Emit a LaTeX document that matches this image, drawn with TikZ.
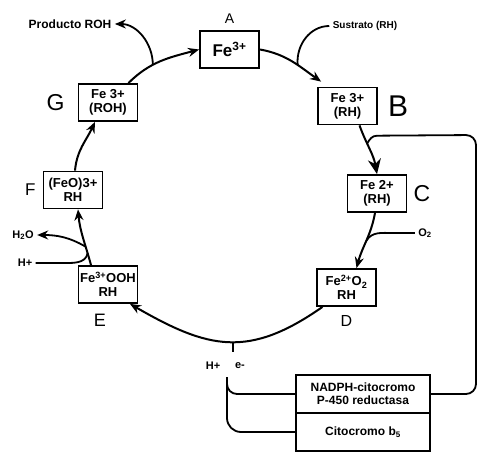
\documentclass[tikz,border=0pt]{standalone}
\usepackage{fontspec}
\setmainfont{Liberation Sans}
\usetikzlibrary{arrows.meta,positioning,calc}

\begin{document}
\begin{tikzpicture}[
        x=1pt, y=1pt,
        every node/.style={font=\bfseries\fontsize{11}{12}\selectfont},
        state/.style={
            draw,
            line width=1.8pt,
            align=center,
            minimum width=59pt,
            minimum height=37pt,
            inner sep=1pt,
            font=\bfseries\fontsize{13}{14}\selectfont
        },
        enzyme/.style={
            draw,
            line width=1.8pt,
            align=center,
            minimum width=134pt,
            minimum height=38pt,
            inner sep=1pt,
            outer sep=0pt,
            font=\bfseries\fontsize{12}{13}\selectfont
        },
        tag/.style={inner sep=0pt, font=\fontsize{23}{23}\selectfont},
        cyc/.style={-{Stealth[length=11pt,width=9pt]}, line width=2pt},
        side/.style={line width=1.8pt}
    ]
    \useasboundingbox (0,0) rectangle (479,-454);

    % estados del ciclo
    \node[state, font=\bfseries\fontsize{17}{18}\selectfont] (A) at (229.5,-49.5) {Fe\textsuperscript{3+}};
    \node[state] (B) at (347.5,-106) {Fe 3+\\(RH)};
    \node[state] (C) at (377,-193.5) {Fe 2+\\(RH)};
    \node[state] (D) at (346.5,-287.5) {Fe\textsuperscript{2+}O\textsubscript{2}\\RH};
    \node[state] (E) at (108,-284.5) {Fe\textsuperscript{3+}OOH\\RH};
    \node[state] (F) at (73,-190) {(FeO)3+\\RH};
    \node[state] (G) at (108,-102.5) {Fe 3+\\(ROH)};

    \node[tag, font=\fontsize{14}{14}\selectfont, above=6pt of A] (labA) {A};
    \node[tag, font=\fontsize{30}{30}\selectfont, right=10pt of B] (labB) {B};
    \node[tag, right=6pt of C] (labC) {C};
    \node[tag, font=\fontsize{16}{16}\selectfont, below=8pt of D] (labD) {D};
    \node[tag, font=\fontsize{18}{18}\selectfont, below=10pt of E, xshift=-8pt] (labE) {E};
    \node[tag, font=\fontsize{17}{17}\selectfont, left=7pt of F] (labF) {F};
    \node[tag, left=13pt of G] (labG) {G};

    % enzimas
    \node[enzyme] (red) at (363,-394) {NADPH-citocromo\\P-450 reductasa};
    \node[enzyme, below=0pt of red] (cyt) {Citocromo b\textsubscript{5}};

    % sustratos y productos
    \node[font=\bfseries\fontsize{12}{13}\selectfont] (prod) at (70,-24) {Producto ROH};
    \node[font=\bfseries\fontsize{10}{11}\selectfont] (sus) at (365,-26) {Sustrato (RH)};
    \node (o2) at (425,-233) {O\textsubscript{2}};
    \node (h2o) at (23,-235) {H\textsubscript{2}O};
    \node (hpl) at (25,-263) {H+};
    \node (hp) at (213,-366) {H+};
    \node (em) at (240,-366) {e-};

    % ciclo
    \draw[cyc] ([xshift=-10pt]G.north east) to[out=45,in=195] coordinate[pos=0.38] (jG) (A.west);
    \draw[cyc] (A.east) to[out=-10,in=145] coordinate[pos=0.6] (jA) ([shift={(4pt,5pt)}]B.north west);
    \draw[-{Stealth[length=15pt,width=13pt]}, line width=2pt] ([xshift=12pt]B.south) to[out=-70,in=100] coordinate[pos=0.37] (jB) (C.north);
    \draw[cyc] ([xshift=-2pt]C.south) to[out=-100,in=75] coordinate[pos=0.5] (jC) ([xshift=10pt]D.north);
    \draw[cyc] ([xshift=-24pt]D.south) to[out=-145,in=-30,looseness=1.2] coordinate[pos=0.47] (jD) ([xshift=22pt]E.south);
    \draw[cyc] ([xshift=-17pt]E.north) to[out=105,in=-85] coordinate[pos=0.2] (jEin) coordinate[pos=0.32] (jEout) ([xshift=5pt]F.south);
    \draw[cyc] ([xshift=2pt]F.north) to[out=85,in=-115] ([xshift=-13pt]G.south);

    % entradas y salidas
    \draw[side, -{Stealth[length=11pt,width=9pt]}] (jG) to[out=90,in=0] (prod.east);
    \draw[side] (sus.west) to[out=180,in=95] (jA);
    \draw[side] (o2.west) -- ++(-22,0) to[out=180,in=60] (jC);
    \draw[side, -{Stealth[length=11pt,width=9pt]}] (jEout) to[out=150,in=0] (h2o.east);
    \draw[side] (hpl.east) -- ++(25,0) to[out=0,in=-100] (jEin);
    \draw[side] (jD) -- ++(0,-10);

    % electrones desde las enzimas
    \coordinate (rtop) at (476,-135);
    \coordinate (hpb) at (227,-377);
    \draw[side, rounded corners=10pt] (red.east) -| (rtop) -- ([shift={(10pt,8pt)}]jB);
    \draw[side] ([shift={(10pt,8pt)}]jB) to[out=180,in=60] (jB);
    \draw[side, rounded corners=14pt] (hpb) |- (cyt.west);
    \draw[side, rounded corners=10pt] ([yshift=-4pt]hpb) |- (red.west);
\end{tikzpicture}
\end{document}
